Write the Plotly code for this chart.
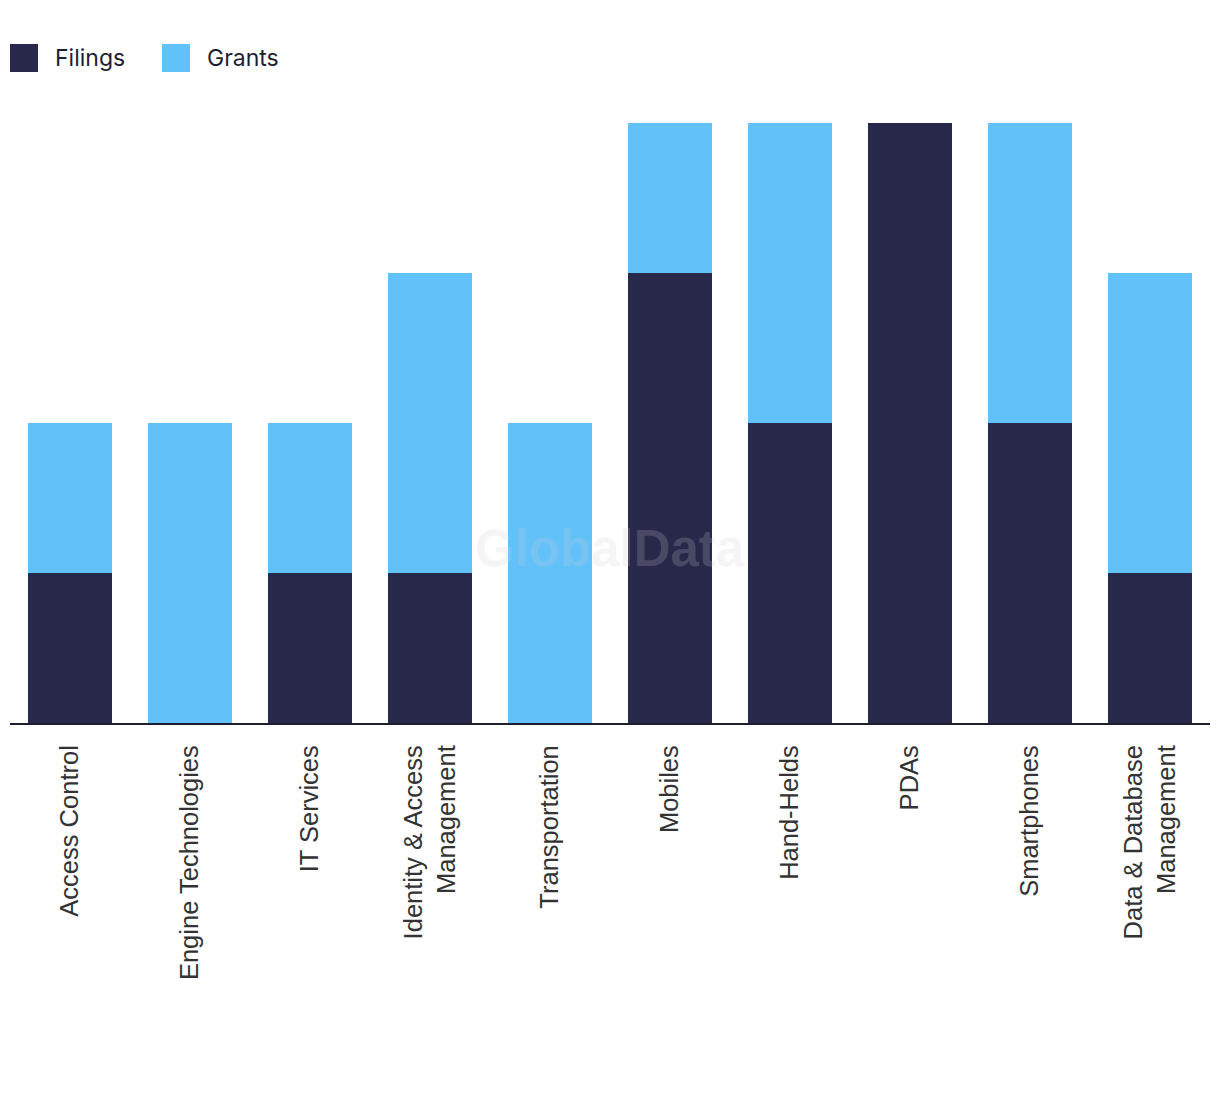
import plotly.graph_objects as go

categories = ["Access Control", "Engine Technologies", "IT Services",
              "Identity & Access<br>Management", "Transportation", "Mobiles",
              "Hand-Helds", "PDAs", "Smartphones", "Data & Database<br>Management"]
filings = [1, 0, 1, 1, 0, 3, 2, 4, 2, 1]
grants = [1, 2, 1, 2, 2, 1, 2, 0, 2, 2]
series_names = ["Filings", "Grants"]

NAVY = "#28284b"
BLUE = "#62c1f9"
TEXT = "#1e1e32"

W, H = 1204, 1078
ML, MR, MT, MB = 2, 2, 115, 363
PW, PH = W - ML - MR, H - MT - MB

fig = go.Figure()
fig.add_trace(go.Bar(x=categories, y=filings, name=series_names[0], marker_color=NAVY,
                     marker_line_width=0))
fig.add_trace(go.Bar(x=categories, y=grants, name=series_names[1], marker_color=BLUE,
                     marker_line_width=0))


def px_x(fx):
    return (fx - ML) / PW


def px_y(fy):
    return (H - MB - fy) / PH


# custom legend (larger square swatches)
shapes = []
annotations = []
for i, (name, col, sx, tx) in enumerate([(series_names[0], NAVY, 2, 45),
                                         (series_names[1], BLUE, 154, 197)]):
    shapes.append(dict(type="rect", xref="paper", yref="paper",
                       x0=px_x(sx), x1=px_x(sx + 28), y0=px_y(64), y1=px_y(36),
                       fillcolor=col, line_width=0))
    annotations.append(dict(text=name, xref="paper", yref="paper", x=px_x(tx), y=px_y(50),
                            xanchor="left", yanchor="middle", showarrow=False,
                            font=dict(family="Inter, Roboto, sans-serif", size=23, color=TEXT)))

annotations.append(dict(text="<b>GlobalData</b>", x=px_x(602), y=px_y(540), xref="paper", yref="paper",
                        xanchor="center", yanchor="middle", showarrow=False,
                        font=dict(family="Liberation Sans, Arial, sans-serif", size=51,
                                  color="rgba(204,204,212,0.2)")))

fig.update_layout(
    barmode="stack",
    bargap=0.3,
    width=W, height=H,
    margin=dict(l=ML, r=MR, t=MT, b=MB),
    plot_bgcolor="white", paper_bgcolor="white",
    showlegend=False,
    xaxis=dict(tickangle=-90, showline=True, linecolor=TEXT, linewidth=2,
               ticks="", ticklabelstandoff=10,
               tickfont=dict(family="Liberation Sans, Arial, sans-serif", size=25.5, color="#333333"),
               showgrid=False),
    yaxis=dict(range=[0, 4], visible=False, showgrid=False),
    shapes=shapes,
    annotations=annotations,
)

fig.write_html("out.html")
